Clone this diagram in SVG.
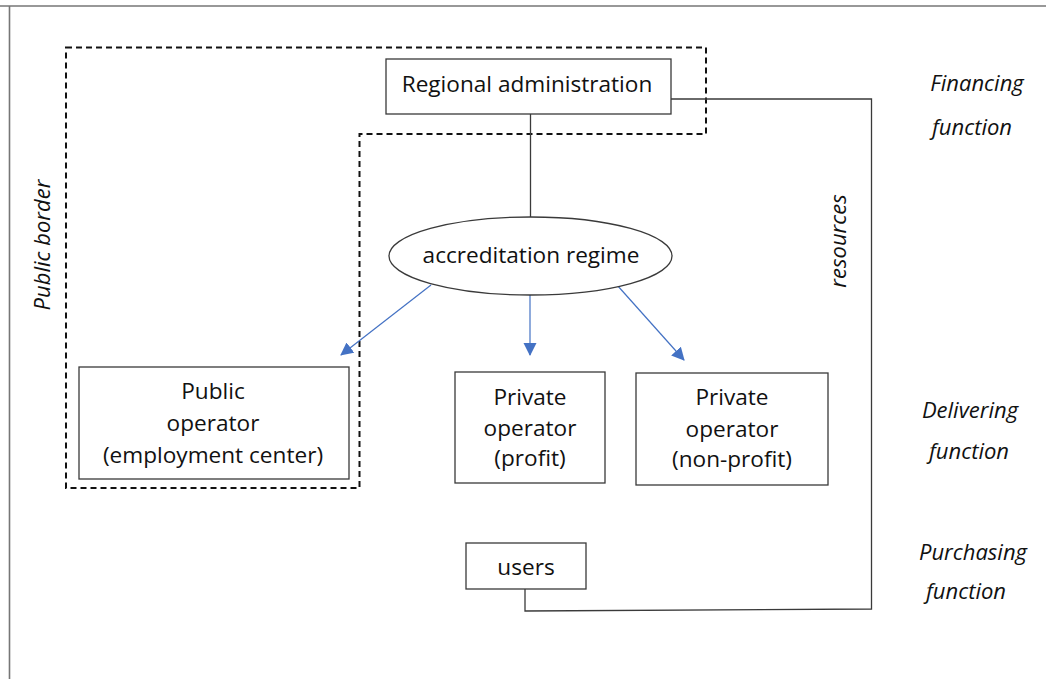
<svg xmlns="http://www.w3.org/2000/svg" width="1046" height="679" viewBox="0 0 1046 679">
  <style>
    .box { fill: #ffffff; stroke: #3a3a3a; stroke-width: 1.3; }
    .lbl { font-family: "Open Sans", "Liberation Sans", sans-serif; font-size: 22.6px; fill: #111111; text-anchor: middle; }
    .side { font-family: "Open Sans", "Liberation Sans", sans-serif; font-size: 22px; font-style: italic; fill: #111111; text-anchor: middle; }
    .wire { fill: none; stroke: #3a3a3a; stroke-width: 1.3; }
    .flow { fill: none; stroke: #4472c4; stroke-width: 1.2; }
    .border { fill: none; stroke: #111111; stroke-width: 2; stroke-dasharray: 6 4; }
  </style>
  <defs>
    <marker id="arrow" markerUnits="userSpaceOnUse" markerWidth="14" markerHeight="14" refX="12" refY="6.5" orient="auto">
      <path d="M0,0 L13,6.5 L0,13 z" fill="#4472c4"/>
    </marker>
  </defs>

  <rect width="1046" height="679" fill="#ffffff"/>

  <!-- page frame -->
  <g id="frame" stroke="#767676" stroke-width="1.6" fill="none">
    <line x1="0" y1="6" x2="1046" y2="6"/>
    <line x1="9.5" y1="6" x2="9.5" y2="679"/>
  </g>

  <!-- public sector boundary -->
  <g id="public-border">
    <path class="border" d="M66,47.5 H706 V134 H359.5 V488 H66 Z"/>
    <text class="side" transform="translate(50,245) rotate(-90)">Public border</text>
  </g>

  <!-- connectors -->
  <g id="connectors">
    <line class="wire" x1="530.5" y1="114" x2="530.5" y2="217"/>
    <polyline class="wire" points="671,99 871.5,99 871.5,609 525,611 525,589"/>
    <line class="flow" x1="431" y1="285" x2="341" y2="355" marker-end="url(#arrow)"/>
    <line class="flow" x1="530" y1="295" x2="530" y2="355" marker-end="url(#arrow)"/>
    <line class="flow" x1="617" y1="285" x2="684" y2="360" marker-end="url(#arrow)"/>
  </g>

  <g id="regional-administration">
    <rect class="box" x="386" y="59" width="285" height="55"/>
    <text class="lbl" x="527" y="92">Regional administration</text>
  </g>

  <g id="accreditation-regime">
    <ellipse class="box" cx="530.5" cy="256" rx="141.5" ry="39"/>
    <text class="lbl" x="531" y="263">accreditation regime</text>
  </g>

  <g id="public-operator">
    <rect class="box" x="79" y="367" width="270" height="112"/>
    <text class="lbl" x="213" y="399">Public</text>
    <text class="lbl" x="213" y="431">operator</text>
    <text class="lbl" x="213" y="463">(employment center)</text>
  </g>

  <g id="private-profit">
    <rect class="box" x="455" y="372" width="150" height="111"/>
    <text class="lbl" x="530" y="405">Private</text>
    <text class="lbl" x="530" y="436">operator</text>
    <text class="lbl" x="530" y="466">(profit)</text>
  </g>

  <g id="private-non-profit">
    <rect class="box" x="636" y="373" width="192" height="112"/>
    <text class="lbl" x="732" y="405">Private</text>
    <text class="lbl" x="732" y="437">operator</text>
    <text class="lbl" x="732" y="467">(non-profit)</text>
  </g>

  <g id="users">
    <rect class="box" x="466" y="543" width="120" height="46"/>
    <text class="lbl" x="526" y="575">users</text>
  </g>

  <g id="resources-label">
    <text class="side" transform="translate(846,241) rotate(-90)">resources</text>
  </g>

  <!-- function labels on the right -->
  <g id="function-labels">
    <text class="side" x="977" y="91">Financing</text>
    <text class="side" x="972" y="135">function</text>
    <text class="side" x="970" y="418">Delivering</text>
    <text class="side" x="969" y="459">function</text>
    <text class="side" x="973" y="560">Purchasing</text>
    <text class="side" x="966" y="599">function</text>
  </g>
</svg>
